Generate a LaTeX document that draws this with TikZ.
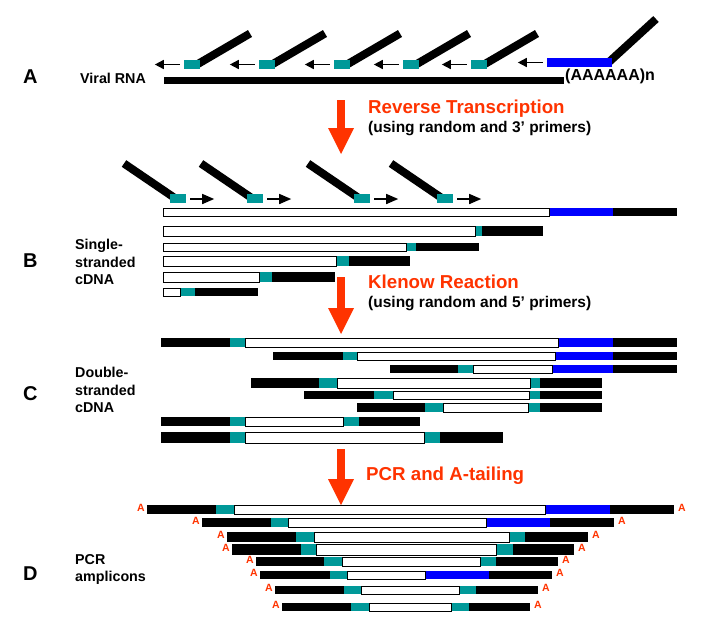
\documentclass[tikz,border=0pt]{standalone}
\usepackage{fontspec}
\setmainfont{Liberation Sans}
\usetikzlibrary{arrows.meta,positioning}
\definecolor{primerteal}{RGB}{0,153,153}
\definecolor{polyblue}{RGB}{0,0,255}
\definecolor{steporange}{RGB}{255,51,0}

\begin{document}
\begin{tikzpicture}[x=1pt,y=-1pt,
    wseg/.style={draw=black,line width=0.8pt,fill=white},
    primer/.style={line width=8pt,black},
    tealbox/.style={fill=primerteal,inner sep=0pt,minimum width=16pt,minimum height=9pt},
    bluebox/.style={fill=polyblue,inner sep=0pt,minimum width=65pt,minimum height=9pt},
    ext/.style={line width=1.5pt,-{Triangle[width=9pt,length=9pt]}},
    extlong/.style={line width=1.5pt,-{Triangle[width=10pt,length=12pt]}},
    bigarrow/.style={draw=steporange,line width=8pt,-{Triangle[width=26pt,length=26pt,line width=0pt]}},
    panel/.style={font=\fontsize{20}{20}\selectfont\bfseries,anchor=base west,inner sep=0pt},
    side/.style={font=\fontsize{14.3}{17}\selectfont\bfseries,anchor=base west,inner sep=0pt},
    steptitle/.style={font=\fontsize{18.7}{20}\selectfont\bfseries,text=steporange,anchor=base west,inner sep=0pt},
    stepnote/.style={font=\fontsize{15.5}{17}\selectfont\bfseries,anchor=base west,inner sep=0pt},
    tail/.style={font=\fontsize{10.5}{10.5}\selectfont\bfseries,text=steporange,inner sep=0pt}]
    \useasboundingbox (0,0) rectangle (722,630);

    % A: viral RNA with primers
    \node[panel] (lblA) at (23,83) {A};
    \node[side] (rna) at (80,83) {Viral RNA};
    \fill (164,77) rectangle (564,84);
    \node[side,font=\fontsize{16}{16}\selectfont\bfseries] (polyA) at (565,80) {(AAAAAA)n};
    \foreach \n/\x in {1/192,2/267,3/342,4/411,5/479}{
        \coordinate (sa\n) at (\x,64.5);
        \draw[primer] (sa\n) ++(5,0) -- ++(53,-31);
        \node[tealbox] (pa\n) at (sa\n) {};
        \draw[ext] ([xshift=-4pt]pa\n.west) -- ++(-25,0);
    }
    \draw[primer] (609,62) -- ++(47,-43);
    \node[bluebox] (pA) at (579.5,62.5) {};
    \draw[ext] ([xshift=-4pt]pA.west) -- ++(-25,0);

    \coordinate (rtTop) at (341,100);
    \coordinate (rtTip) at (341,154);
    \draw[bigarrow] (rtTop) -- (rtTip);
    \node[steptitle] (rtTitle) at (368,113) {Reverse Transcription};
    \node[stepnote] (rtNote) at (368,132) {(using random and 3’ primers)};

    % B: single-stranded cDNA
    \foreach \n/\x in {1/178,2/255,3/362,4/445}{
        \coordinate (sb\n) at (\x,198);
        \draw[primer] (sb\n) ++(-4,-0.5) -- ++(-50,-34);
        \node[tealbox] (pb\n) at (sb\n) {};
        \draw[extlong] ([xshift=4pt,yshift=-1pt]pb\n.east) -- ++(24,0);
    }
    \foreach \ya/\yb/\xa/\xb/\xc/\xd/\mc in {
        208/216/163/549/613/677/polyblue,
        226/236/163/475/482/543/primerteal,
        243/251/163/406/416/479/primerteal,
        256/266/163/336/349/410/primerteal,
        272/282/163/259/272/335/primerteal,
        288/296/163/180/195/258/primerteal}{
        \fill[\mc] (\xb,\ya) rectangle (\xc,\yb);
        \fill (\xc,\ya) rectangle (\xd,\yb);
        \draw[wseg] (\xa,\ya) rectangle (\xb,\yb);
    }
    \node[panel] (lblB) at (23,267) {B};
    \node[side] (ssB1) at (75,249) {Single-};
    \node[side] (ssB2) at (75,267) {stranded};
    \node[side] (ssB3) at (75,284) {cDNA};

    \coordinate (klTop) at (341,277);
    \coordinate (klTip) at (341,334);
    \draw[bigarrow] (klTop) -- (klTip);
    \node[steptitle] (klTitle) at (368,288) {Klenow Reaction};
    \node[stepnote] (klNote) at (368,307) {(using random and 5’ primers)};

    % C: double-stranded cDNA
    \foreach \ya/\yb/\xa/\xb/\xc/\xd/\xe/\xf/\mc in {
        338/347/161/230/245/558/613/677/polyblue,
        352/360/273/343/357/555/613/677/polyblue,
        365/373/390/458/473/552/613/677/polyblue,
        378/388/251/319/337/530/540/602/primerteal,
        391/399/304/374/393/529/540/602/primerteal,
        403/412/357/425/443/528/540/602/primerteal,
        417/426/161/230/245/343/359/420/primerteal,
        432/443/161/230/245/424/440/503/primerteal}{
        \fill (\xa,\ya) rectangle (\xb,\yb);
        \fill[primerteal] (\xb,\ya) rectangle (\xc,\yb);
        \fill[\mc] (\xd,\ya) rectangle (\xe,\yb);
        \fill (\xe,\ya) rectangle (\xf,\yb);
        \draw[wseg] (\xc,\ya) rectangle (\xd,\yb);
    }
    \node[panel] (lblC) at (23,400) {C};
    \node[side] (dsC1) at (75,377) {Double-};
    \node[side] (dsC2) at (75,395) {stranded};
    \node[side] (dsC3) at (75,412) {cDNA};

    \coordinate (pcTop) at (341,449);
    \coordinate (pcTip) at (341,505);
    \draw[bigarrow] (pcTop) -- (pcTip);
    \node[steptitle] (pcTitle) at (366,480) {PCR and A-tailing};

    % D: PCR amplicons with A tails
    \foreach \ya/\yb/\xa/\xb/\xc/\xd/\xe/\xf/\mc [count=\i] in {
        505/514/147/216/234/545/610/674/polyblue,
        518/527/202/271/288/486/550/614/polyblue,
        532/542/227/296/314/509/525/588/primerteal,
        544/555/232/301/316/496/513/574/primerteal,
        557/566/256/324/342/480/496/558/primerteal,
        571/579/260/330/347/425/489/552/polyblue,
        586/594/275/344/361/459/476/538/primerteal,
        603/611/282/351/369/451/469/530/primerteal}{
        \fill (\xa,\ya) rectangle (\xb,\yb);
        \fill[primerteal] (\xb,\ya) rectangle (\xc,\yb);
        \fill[\mc] (\xd,\ya) rectangle (\xe,\yb);
        \fill (\xe,\ya) rectangle (\xf,\yb);
        \draw[wseg] (\xc,\ya) rectangle (\xd,\yb);
        \node[tail,anchor=east] (tl\i) at (\xa-2,{(\ya+\yb)/2-2}) {A};
        \node[tail,anchor=west] (tr\i) at (\xf+4,{(\ya+\yb)/2-2}) {A};
    }
    \node[panel] (lblD) at (23,580) {D};
    \node[side] (amD1) at (75,564) {PCR};
    \node[side] (amD2) at (75,581) {amplicons};
\end{tikzpicture}
\end{document}
